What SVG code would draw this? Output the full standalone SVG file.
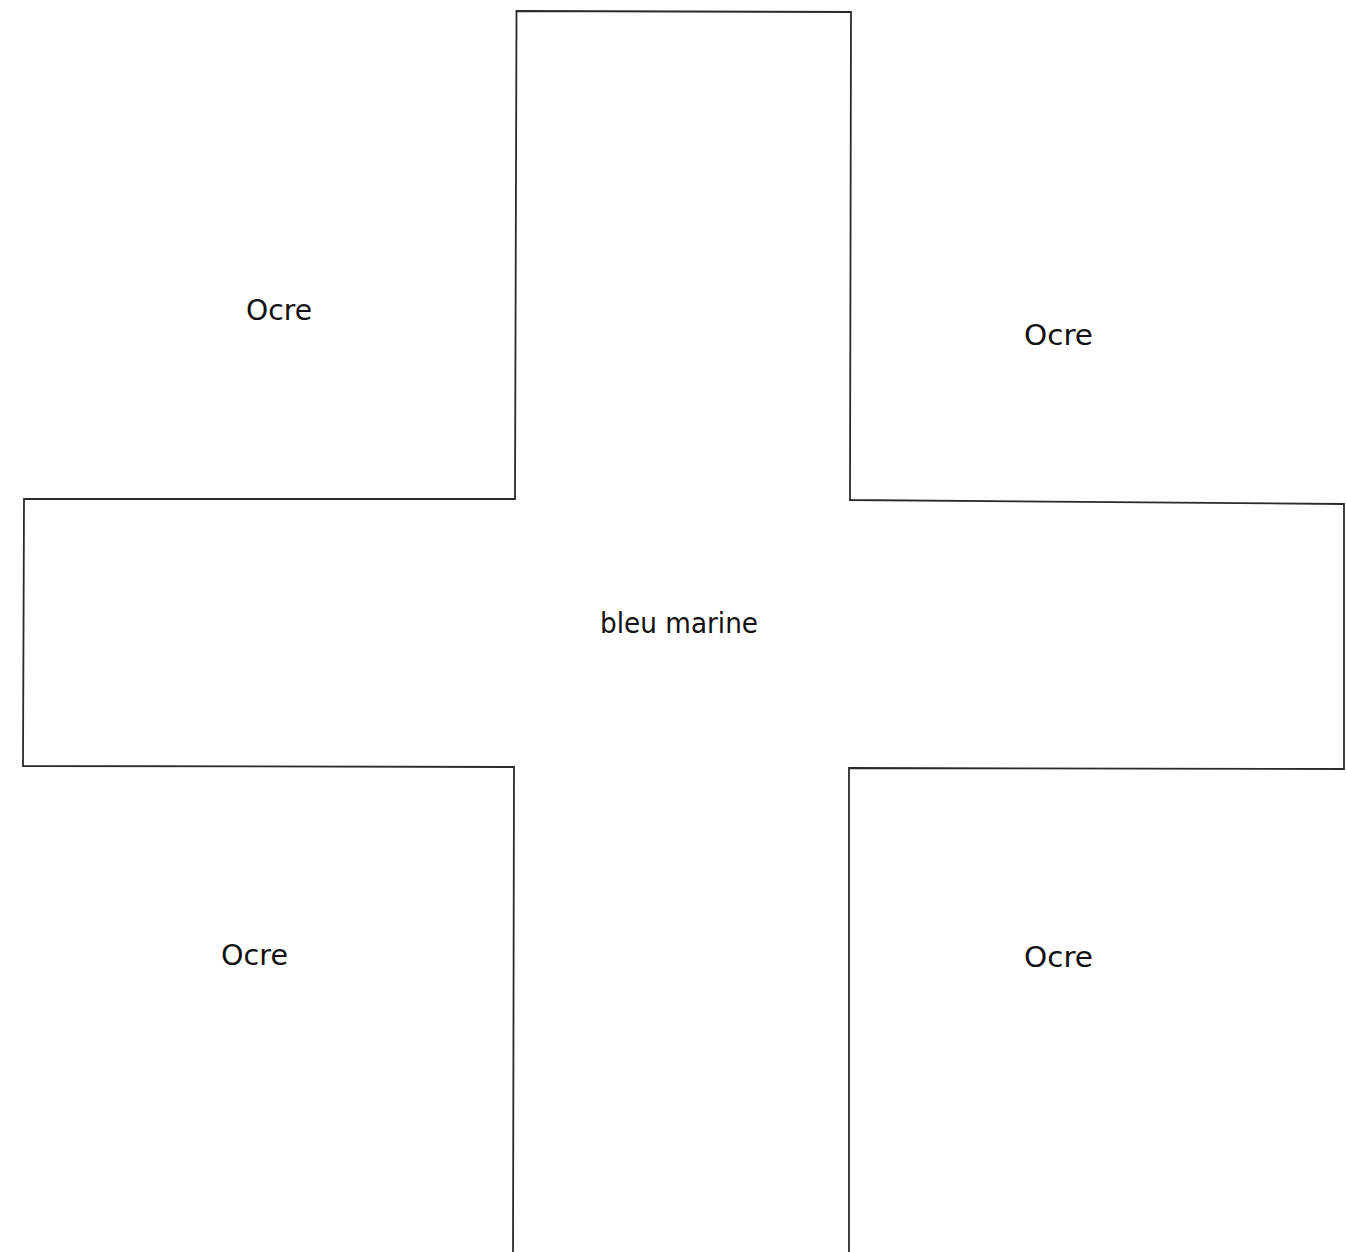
<svg xmlns="http://www.w3.org/2000/svg" width="1347" height="1252" viewBox="0 0 1347 1252">
<style>
.outline{fill:#ffffff;stroke:#2a2a2a;stroke-width:1.8;stroke-linejoin:miter}
.lbl{font-family:"DejaVu Sans","Liberation Sans",sans-serif;font-size:28px;fill:#111111;text-anchor:middle}
</style>
<rect width="1347" height="1252" fill="#ffffff"/>
<g id="cross">
<path class="outline" d="M516.5,11 L851,12 L850,500 L1344,504 L1344,769 L849,768 L849,1256 L513,1256 L514,767 L23,766 L24,499 L515,499 Z"/>
</g>
<g id="label-center"><text class="lbl" x="679" y="633" textLength="158" lengthAdjust="spacingAndGlyphs">bleu marine</text></g>
<g id="label-top-left"><text class="lbl" x="279" y="320" textLength="66" lengthAdjust="spacingAndGlyphs">Ocre</text></g>
<g id="label-top-right"><text class="lbl" x="1058.5" y="345" textLength="69" lengthAdjust="spacingAndGlyphs">Ocre</text></g>
<g id="label-bottom-left"><text class="lbl" x="254.5" y="965" textLength="67" lengthAdjust="spacingAndGlyphs">Ocre</text></g>
<g id="label-bottom-right"><text class="lbl" x="1058.5" y="967" textLength="69" lengthAdjust="spacingAndGlyphs">Ocre</text></g>
<g id="connectors"></g>
</svg>
